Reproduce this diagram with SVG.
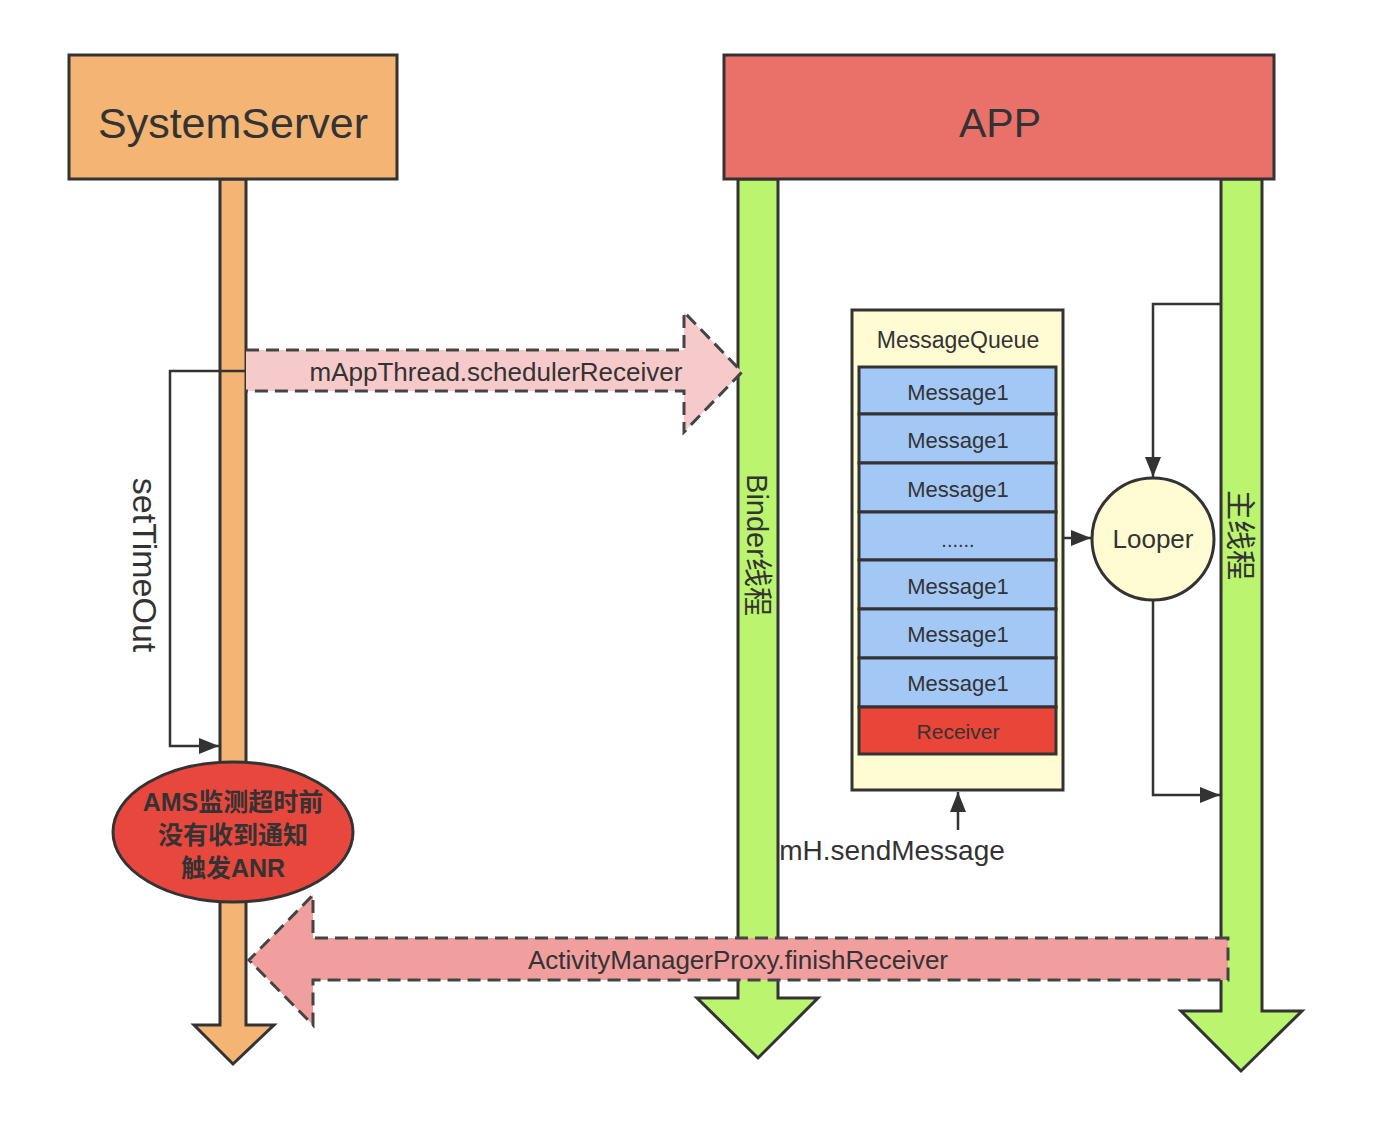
<svg xmlns="http://www.w3.org/2000/svg" width="1376" height="1148" viewBox="0 0 1376 1148">
<defs>
<marker id="ah" viewBox="0 0 20 16" refX="20" refY="8" markerWidth="20" markerHeight="16" markerUnits="userSpaceOnUse" orient="auto">
<path d="M0,0 L20,8 L0,16 z" fill="#333"/>
</marker>
</defs>
<style>
.t{font-family:"Liberation Sans",Arial,"Noto Sans CJK SC",sans-serif;fill:#333;text-anchor:middle;dominant-baseline:central}
.s{stroke:#333;stroke-width:3}
.ln{fill:none;stroke:#333;stroke-width:2.5}
.dash{stroke:#444;stroke-width:3;stroke-dasharray:13 7}
.msg{fill:#A3C8F6;stroke:#333;stroke-width:3}
</style>
<rect width="1376" height="1148" fill="#fff"/>

<g id="lifeline-systemserver">
<polygon class="s" fill="#F3B474" points="220,179 246,179 246,1025 274,1025 233,1064 194,1025 220,1025"/>
</g>
<g id="sendMessage">
<text class="t" x="892" y="850" font-size="28">mH.sendMessage</text>
</g>
<g id="lifeline-binder">
<polygon class="s" fill="#BBF46F" points="738,179 778,179 778,998 818,998 758,1058 697,998 738,998"/>
<text class="t" font-size="29" transform="translate(757,545) rotate(90)">Binder线程</text>
</g>
<g id="lifeline-main">
<polygon class="s" fill="#BBF46F" points="1221,179 1262,179 1262,1011 1302,1011 1241,1071 1181,1011 1221,1011"/>
<text class="t" font-size="30" transform="translate(1240,535) rotate(90)">主线程</text>
</g>

<g id="SystemServer">
<rect class="s" x="69" y="55" width="328" height="124" fill="#F3B474"/>
<text class="t" x="233" y="123" font-size="43">SystemServer</text>
</g>
<g id="APP">
<rect class="s" x="724" y="55" width="550" height="124" fill="#EA716A"/>
<text class="t" x="1000" y="123" font-size="41">APP</text>
</g>

<g id="connectors">
<polyline class="ln" points="246,371 170,371 170,746 219,746" marker-end="url(#ah)"/>
<text class="t" font-size="34" transform="translate(145,565) rotate(90)">setTimeOut</text>
<polyline class="ln" points="1221,304 1153,304 1153,477" marker-end="url(#ah)"/>
<polyline class="ln" points="1153,600 1153,795 1220,795" marker-end="url(#ah)"/>
<line class="ln" x1="1063" y1="538" x2="1091" y2="538" marker-end="url(#ah)"/>
<line class="ln" x1="958" y1="830" x2="958" y2="792" marker-end="url(#ah)"/>
</g>

<g id="MessageQueue">
<rect class="s" x="852" y="310" width="211" height="480" fill="#FFFCD3"/>
<text class="t" x="958" y="340" font-size="23">MessageQueue</text>
<rect class="msg" x="859" y="367" width="197" height="47"/>
<text class="t" x="958" y="392" font-size="22">Message1</text>
<rect class="msg" x="859" y="414" width="197" height="49"/>
<text class="t" x="958" y="440" font-size="22">Message1</text>
<rect class="msg" x="859" y="463" width="197" height="49"/>
<text class="t" x="958" y="489" font-size="22">Message1</text>
<rect class="msg" x="859" y="512" width="197" height="48"/>
<text class="t" x="958" y="540" font-size="20">......</text>
<rect class="msg" x="859" y="560" width="197" height="49"/>
<text class="t" x="958" y="586" font-size="22">Message1</text>
<rect class="msg" x="859" y="609" width="197" height="49"/>
<text class="t" x="958" y="634" font-size="22">Message1</text>
<rect class="msg" x="859" y="658" width="197" height="49"/>
<text class="t" x="958" y="683" font-size="22">Message1</text>
<rect class="s" x="859" y="707" width="197" height="47" fill="#E94538"/>
<text class="t" x="958" y="731" font-size="21">Receiver</text>
</g>

<g id="Looper">
<circle class="s" cx="1153" cy="539" r="61" fill="#FFFCD3"/>
<text class="t" x="1153" y="539" font-size="26">Looper</text>
</g>

<g id="ANR">
<ellipse class="s" cx="233" cy="832" rx="120" ry="70" fill="#E8473D"/>
<text class="t" x="233" y="802" font-size="25" font-weight="bold" fill="#222">AMS监测超时前</text>
<text class="t" x="233" y="835" font-size="25" font-weight="bold" fill="#222">没有收到通知</text>
<text class="t" x="233" y="868" font-size="25" font-weight="bold" fill="#222">触发ANR</text>
</g>

<g id="scheduleReceiver">
<polygon fill="#F6CACA" points="246,350 684,350 684,312 742,372 684,432 684,391 246,391"/>
<polyline class="dash" fill="none" points="246,350 684,350 684,312 742,372 684,432 684,391 246,391"/>
<text class="t" x="496" y="372" font-size="26">mAppThread.schedulerReceiver</text>
</g>

<g id="finishReceiver">
<polygon fill="#F09E9E" points="1228,938 313,938 313,895 249,960 313,1025 313,980 1228,980"/>
<polygon class="dash" fill="none" points="1228,938 313,938 313,895 249,960 313,1025 313,980 1228,980"/>
<text class="t" x="738" y="960" font-size="26">ActivityManagerProxy.finishReceiver</text>
</g>
</svg>
